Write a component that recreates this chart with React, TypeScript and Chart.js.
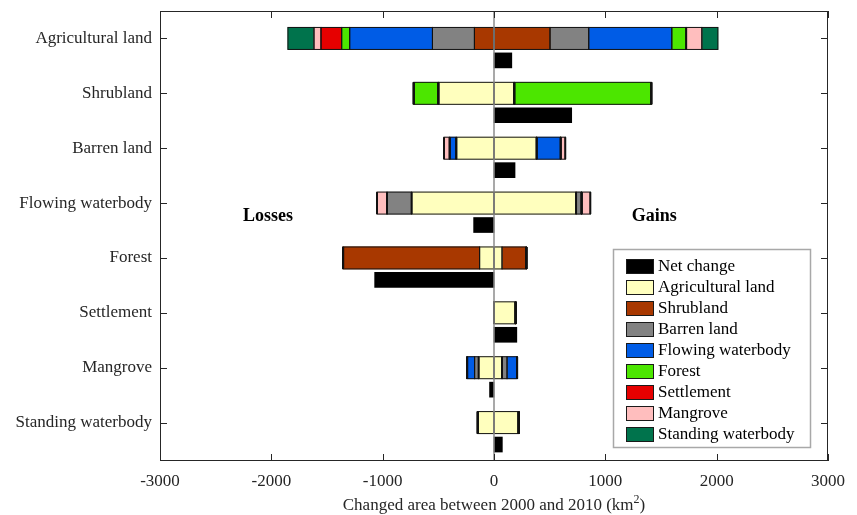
import React, { useEffect, useRef } from 'react';
import { Chart, registerables } from 'chart.js';

Chart.register(...registerables);

// ---------- data ----------
const categories = [
  'Agricultural land',
  'Shrubland',
  'Barren land',
  'Flowing waterbody',
  'Forest',
  'Settlement',
  'Mangrove',
  'Standing waterbody',
];
const xTickValues = [-3000, -2000, -1000, 0, 1000, 2000, 3000];

// gains (positive) and losses (negative) in km², one value per category row
const agriculturalGain = [0, 182, 383, 737, 72, 195, 72, 222];
const agriculturalLoss = [0, -500, -339, -740, -129, 0, -138, -145];
const shrublandGain = [503, 0, 0, 0, 218, 0, 0, 0];
const shrublandLoss = [-176, 0, 0, 0, -1227, 0, 0, 0];
const barrenGain = [348, 0, 0, 50, 0, 0, 45, 0];
const barrenLoss = [-377, 0, 0, -221, 0, 0, -36, 0];
const flowingGain = [746, 0, 216, 0, 0, 0, 90, 0];
const flowingLoss = [-743, 0, -59, 0, 0, 0, -68, 0];
const forestGain = [129, 1231, 0, 0, 0, 0, 0, 0];
const forestLoss = [-72, -221, 0, 0, 0, 0, 0, 0];
const settlementGain = [0, 0, 0, 0, 0, 0, 0, 0];
const settlementLoss = [-186, 0, 0, 0, 0, 0, 0, 0];
const mangroveGain = [141, 0, 41, 78, 0, 0, 0, 0];
const mangroveLoss = [-63, 0, -51, -90, 0, 0, 0, 0];
const standingGain = [144, 0, 0, 0, 0, 0, 0, 0];
const standingLoss = [-234, 0, 0, 0, 0, 0, 0, 0];
const netChange = [160, 698, 189, -183, -1072, 205, -40, 75];

const legendLabels = [
  'Net change',
  'Agricultural land',
  'Shrubland',
  'Barren land',
  'Flowing waterbody',
  'Forest',
  'Settlement',
  'Mangrove',
  'Standing waterbody',
];
const seriesColors = [
  '#000000',
  '#FFFFBE',
  '#A83800',
  '#828282',
  '#005CE6',
  '#4CE600',
  '#E60000',
  '#FFBEBE',
  '#00734C',
];
const classGains = [agriculturalGain, shrublandGain, barrenGain, flowingGain, forestGain, settlementGain, mangroveGain, standingGain];
const classLosses = [agriculturalLoss, shrublandLoss, barrenLoss, flowingLoss, forestLoss, settlementLoss, mangroveLoss, standingLoss];

// ---------- style ----------
const FONT = "'Liberation Serif', 'Times New Roman', serif";
const AXIS_COLOR = '#262626';
const EDGE = '#111111';
const NET_OFFSET = 0.4;
const TICK_LEN = 7;

const decorPlugin = {
  id: 'decor',
  afterDatasetsDraw(chart: any) {
    const ctx = chart.ctx;
    const xs = chart.scales.x;
    const area = chart.chartArea;
    ctx.save();
    // segment outlines (MATLAB-like edges, including zero-width segments)
    ctx.strokeStyle = EDGE;
    const running = categories.map(() => ({ pos: 0, neg: 0 }));
    chart.data.datasets.forEach((ds: any, d: number) => {
      if (ds.stack !== 'main') return;
      const meta = chart.getDatasetMeta(d);
      meta.data.forEach((el: any, i: number) => {
        const v = ds.data[i].x;
        const half = el.height / 2;
        if (v !== 0) {
          const l = Math.min(el.x, el.base);
          const r = Math.max(el.x, el.base);
          ctx.lineWidth = 1;
          ctx.strokeRect(l, el.y - half, r - l, el.height);
          if (v > 0) running[i].pos += v;
          else running[i].neg += v;
        } else {
          const edgeVal = ds.side === 'gain' ? running[i].pos : running[i].neg;
          const px = xs.getPixelForValue(edgeVal);
          ctx.lineWidth = 2;
          ctx.beginPath();
          ctx.moveTo(px, el.y - half);
          ctx.lineTo(px, el.y + half);
          ctx.stroke();
        }
      });
    });
    // zero line
    const x0 = xs.getPixelForValue(0);
    ctx.strokeStyle = '#8c8c8c';
    ctx.lineWidth = 1.5;
    ctx.beginPath();
    ctx.moveTo(x0, area.top);
    ctx.lineTo(x0, area.bottom);
    ctx.stroke();
    ctx.restore();
  },
  afterDraw(chart: any) {
    const ctx = chart.ctx;
    const xs = chart.scales.x;
    const ys = chart.scales.y;
    const a = chart.chartArea;
    ctx.save();
    // axes box
    ctx.strokeStyle = AXIS_COLOR;
    ctx.lineWidth = 1;
    ctx.strokeRect(a.left + 0.5, a.top + 0.5, a.right - a.left - 1, a.bottom - a.top - 1);
    ctx.beginPath();
    xTickValues.forEach((v) => {
      const px = Math.round(xs.getPixelForValue(v)) + 0.5;
      ctx.moveTo(px, a.bottom);
      ctx.lineTo(px, a.bottom - TICK_LEN);
      ctx.moveTo(px, a.top);
      ctx.lineTo(px, a.top + TICK_LEN);
    });
    categories.forEach((_, i) => {
      const py = Math.round(ys.getPixelForValue(i)) + 0.5;
      ctx.moveTo(a.left, py);
      ctx.lineTo(a.left + TICK_LEN, py);
      ctx.moveTo(a.right, py);
      ctx.lineTo(a.right - TICK_LEN, py);
    });
    ctx.stroke();

    // Losses / Gains annotations
    ctx.fillStyle = '#000';
    ctx.font = `bold 18px ${FONT}`;
    ctx.textAlign = 'center';
    ctx.textBaseline = 'middle';
    ctx.fillText('Losses', xs.getPixelForValue(-2030), ys.getPixelForValue(3.25));
    ctx.fillText('Gains', xs.getPixelForValue(1440), ys.getPixelForValue(3.25));

    // x-axis title with superscript
    const main = 'Changed area between 2000 and 2010 (km';
    ctx.font = `17px ${FONT}`;
    const wMain = ctx.measureText(main).width;
    ctx.font = `12px ${FONT}`;
    const wSup = ctx.measureText('2').width;
    ctx.font = `17px ${FONT}`;
    const wClose = ctx.measureText(')').width;
    const total = wMain + wSup + wClose;
    let tx = (a.left + a.right) / 2 - total / 2;
    const baseY = 510;
    ctx.fillStyle = AXIS_COLOR;
    ctx.textAlign = 'left';
    ctx.textBaseline = 'alphabetic';
    ctx.fillText(main, tx, baseY);
    tx += wMain;
    ctx.font = `12px ${FONT}`;
    ctx.fillText('2', tx, baseY - 7);
    tx += wSup;
    ctx.font = `17px ${FONT}`;
    ctx.fillText(')', tx, baseY);

    // legend
    const lx = 613.5, ly = 249.5, lw = 197, lh = 198;
    ctx.fillStyle = '#ffffff';
    ctx.fillRect(lx, ly, lw, lh);
    ctx.strokeStyle = '#a8a8a8';
    ctx.lineWidth = 1.5;
    ctx.strokeRect(lx, ly, lw, lh);
    ctx.font = `17px ${FONT}`;
    ctx.textAlign = 'left';
    ctx.textBaseline = 'middle';
    legendLabels.forEach((lab, k) => {
      const sy = 259 + 21 * k;
      ctx.fillStyle = seriesColors[k];
      ctx.fillRect(626, sy, 28, 15);
      ctx.strokeStyle = '#1a1a1a';
      ctx.lineWidth = 1;
      ctx.strokeRect(626.5, sy + 0.5, 27, 14);
      ctx.fillStyle = '#000';
      ctx.fillText(lab, 658, sy + 8);
    });
    ctx.restore();
  },
};

export default function App() {
  const ref = useRef<HTMLCanvasElement>(null);

  useEffect(() => {
    const canvas = ref.current;
    if (!canvas) return;
    const datasets: any[] = [];
    classGains.forEach((gains, k) => {
      const losses = classLosses[k];
      [
        { side: 'gain', vals: gains },
        { side: 'loss', vals: losses },
      ].forEach(({ side, vals }) => {
        datasets.push({
          label: legendLabels[k + 1],
          side,
          data: vals.map((v, i) => ({ x: v, y: i })),
          backgroundColor: seriesColors[k + 1],
          borderWidth: 0,
          stack: 'main',
          grouped: false,
          barThickness: 22,
        });
      });
    });
    datasets.push({
      label: legendLabels[0],
      data: netChange.map((v, i) => ({ x: v, y: i + NET_OFFSET })),
      backgroundColor: seriesColors[0],
      borderWidth: 0,
      stack: 'net',
      grouped: false,
      barThickness: 15,
    });

    const chart = new Chart(canvas, {
      type: 'bar',
      data: { datasets },
      options: {
        indexAxis: 'y',
        animation: false,
        responsive: false,
        layout: { padding: { top: 11, right: 29, left: 0, bottom: 0 } },
        plugins: {
          legend: { display: false },
          tooltip: { enabled: false },
        },
        scales: {
          x: {
            type: 'linear',
            min: -3000,
            max: 3000,
            stacked: true,
            offset: false,
            grid: { display: false, drawTicks: false, offset: false },
            border: { display: false },
            afterBuildTicks: (s: any) => {
              s.ticks = xTickValues.map((v) => ({ value: v }));
            },
            afterFit: (s: any) => {
              s.height = 54;
              s.paddingLeft = 0;
              s.paddingRight = 0;
            },
            ticks: {
              font: { family: FONT, size: 17 },
              color: AXIS_COLOR,
              padding: 10,
              maxRotation: 0,
              autoSkip: false,
              callback: (v: any) => String(v),
            },
          },
          y: {
            type: 'linear',
            min: -0.5,
            max: 7.7,
            reverse: true,
            offset: false,
            grid: { display: false, drawTicks: false, offset: false },
            border: { display: false },
            afterBuildTicks: (s: any) => {
              s.ticks = categories.map((_, i) => ({ value: i }));
            },
            afterFit: (s: any) => {
              s.width = 160;
              s.paddingTop = 0;
              s.paddingBottom = 0;
            },
            ticks: {
              font: { family: FONT, size: 17 },
              color: AXIS_COLOR,
              padding: 8,
              autoSkip: false,
              callback: (v: any) => categories[v] ?? '',
            },
          },
        },
      } as any,
      plugins: [decorPlugin],
    });
    return () => chart.destroy();
  }, []);

  return (
    <div style={{ position: 'absolute', left: 0, top: 0, width: 857, height: 515, background: '#fff' }}>
      <canvas ref={ref} width={857} height={515} />
    </div>
  );
}
